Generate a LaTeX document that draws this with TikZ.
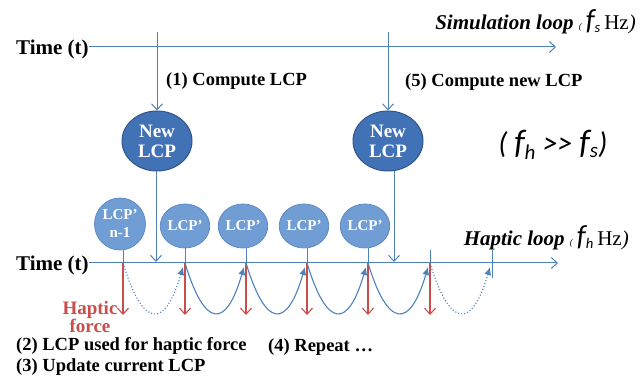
\documentclass[tikz,border=0pt]{standalone}
\usepackage{fontspec}
\setmainfont{Liberation Serif}
\newfontfamily\calfont{Carlito}
\usetikzlibrary{positioning,arrows.meta,shapes.geometric}
\definecolor{Line}{RGB}{79,129,189}
\definecolor{Deep}{RGB}{66,114,182}
\definecolor{DeepEdge}{RGB}{47,84,140}
\definecolor{Soft}{RGB}{113,157,213}
\definecolor{SoftEdge}{RGB}{95,139,198}
\definecolor{Brick}{RGB}{200,78,75}

\begin{document}
\begin{tikzpicture}[x=1pt,y=-1pt,
 t/.style={font=\fontsize{21}{22}\selectfont\bfseries,inner sep=0pt,anchor=west},
 l/.style={font=\fontsize{18.5}{20}\selectfont\bfseries,inner sep=0pt,anchor=west},
 n/.style={ellipse,draw=DeepEdge,fill=Deep,line width=1pt,minimum width=70pt,minimum height=60pt,inner sep=0pt,text=white,align=center,font=\fontsize{19}{20}\selectfont\bfseries},
 p/.style={ellipse,draw=SoftEdge,fill=Soft,line width=.8pt,minimum width=48pt,minimum height=44pt,inner sep=0pt,text=white,align=center,font=\fontsize{15}{18}\selectfont\bfseries},
 a/.style={-{Straight Barb[length=6pt,width=11pt]},Line,line width=1pt},
 r/.style={-{Straight Barb[length=6pt,width=11pt]},Brick,line width=1.1pt},
 c/.style={-{Latex[length=8pt,width=7pt]},Line,line width=1.1pt}]
\useasboundingbox (0,0) rectangle (642,379);

\node[t] (time1) at (16,49) {Time (t)};
\node[t] (time2) at (16,265) {Time (t)};
\coordinate (simend) at (556,47);
\coordinate (hapend) at (558,263);
\draw[a] (time1.east|-simend) -- (simend);
\draw[a] (time2.east|-hapend) -- (hapend);

\node[inner sep=0pt,anchor=east,font=\fontsize{21}{22}\selectfont] (sim) at (636,22)
 {\textbf{\textit{Simulation loop}} \textit{\small(}\,{\calfont\itshape\fontsize{29}{29}\selectfont f}\textsubscript{\calfont\itshape s}\,Hz\textit{)}};
\node[inner sep=0pt,anchor=east,font=\fontsize{21}{22}\selectfont] (hap) at (629,238)
 {\textbf{\textit{Haptic loop}} \textit{\small(}\,{\calfont\itshape\fontsize{29}{29}\selectfont f}\textsubscript{\calfont\itshape h}\,Hz\textit{)}};
\node[inner sep=0pt,font=\calfont\itshape\fontsize{30}{30}\selectfont] (ratio) at (553,145)
 {( {\fontsize{34}{34}\selectfont f}\textsubscript{h} >> {\fontsize{34}{34}\selectfont f}\textsubscript{s})};

\node[n] (new1) at (157,141) {New\\LCP};
\node[n] (new2) at (388,141) {New\\LCP};
\coordinate (top1) at (157,32);
\coordinate (top2) at (388,32);
\draw[a] (top1) -- (new1.north);
\draw[a] (top2) -- (new2.north);
\node[l] (compute1) at (166,81) {(1) Compute LCP};
\node[l] (compute5) at (405,82) {(5) Compute new LCP};

\coordinate (h1) at (156,262);
\coordinate (h2) at (394,262);
\draw[a] (new1.south-|h1) -- (h1);
\draw[a] (new2.south-|h2) -- (h2);

\node[p,minimum width=51pt,minimum height=52pt] (lcp0) at (120,224) {LCP'\\n-1};
\foreach \i/\x in {1/185,2/243,3/304,4/365}
 \node[p] (lcp\i) at (\x,226) {LCP'};

\foreach \i/\x in {0/123,1/185,2/246,3/307,4/368,5/430,6/492}
 \coordinate (t\i) at (\x,263);
\foreach \i in {0,...,4}
 \draw[Line,line width=1pt] (t\i|-lcp\i.south) -- (t\i);
\draw[Line,line width=1pt] (430,250) -- (430,269);
\draw[Line,line width=1pt] (492,249) -- (492,278);

\foreach \i in {0,...,5}
 \draw[r] (t\i) -- ++(0,52);

\foreach \i/\j/\s in {0/1/dotted,1/2/solid,2/3/solid,3/4/solid,4/5/solid,5/6/dotted}
 \draw[c,\s] (t\i) .. controls ([xshift=20pt,yshift=-66pt]t\i) and ([xshift=-20pt,yshift=-66pt]t\j) .. ([xshift=-2pt,yshift=-4pt]t\j);

\node[l,anchor=center,align=center,text=Brick,font=\fontsize{19}{16}\selectfont\bfseries] (force) at (90,317) {Haptic\\force};
\node[l] (step2) at (16,346) {(2) LCP used for haptic force};
\node[l] (step3) at (16,367) {(3) Update current LCP};
\node[l] (step4) at (268,347) {(4) Repeat \dots};
\end{tikzpicture}
\end{document}
